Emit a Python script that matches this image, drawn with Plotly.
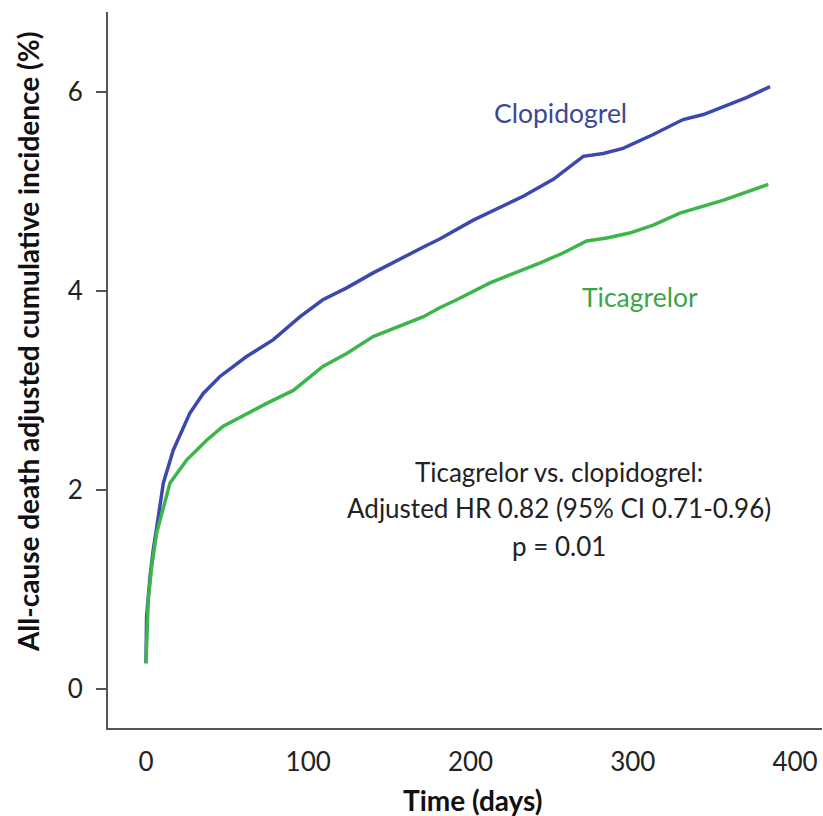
import plotly.graph_objects as go

# ---- data ----
clop_days = [0, 0.4, 2.5, 4.5, 7.6, 10.7, 16.8, 27, 35.3, 45.6, 62, 78.5, 95, 109, 123.7, 140,
             171, 181, 201.7, 232.5, 251, 269.5, 281.8, 294, 312.6, 331, 343.5, 356, 370, 384.6]
clop_vals = [0.26, 0.73, 1.13, 1.40, 1.73, 2.07, 2.40, 2.77, 2.97, 3.14, 3.34, 3.51, 3.74, 3.91, 4.03, 4.18,
             4.44, 4.52, 4.71, 4.95, 5.12, 5.35, 5.38, 5.43, 5.57, 5.72, 5.77, 5.85, 5.94, 6.05]

tica_days = [0, 1.4, 3.5, 6.6, 14.8, 25, 37.4, 47.6, 74.4, 90.8, 109, 123.7, 140, 171, 181, 191.5,
             212, 243, 257, 271.6, 284, 298, 312.6, 329, 356, 383.5]
tica_vals = [0.26, 0.89, 1.23, 1.57, 2.07, 2.30, 2.50, 2.64, 2.87, 3.00, 3.24, 3.37, 3.54, 3.74, 3.83, 3.91,
             4.08, 4.28, 4.38, 4.50, 4.53, 4.58, 4.66, 4.78, 4.91, 5.07]

x_ticks = [0, 100, 200, 300, 400]
y_ticks = [0, 2, 4, 6]

FONT = "Lato"
BLUE = "#3c48b0"
GREEN = "#3cb54a"

fig = go.Figure()
fig.add_trace(go.Scatter(x=clop_days, y=clop_vals, mode="lines", name="Clopidogrel",
                         line=dict(color=BLUE, width=3.5)))
fig.add_trace(go.Scatter(x=tica_days, y=tica_vals, mode="lines", name="Ticagrelor",
                         line=dict(color=GREEN, width=3.5)))

fig.update_layout(
    width=823, height=816,
    margin=dict(l=108, r=1, t=12, b=88),
    plot_bgcolor="white", paper_bgcolor="white",
    showlegend=False,
    font=dict(family=FONT, color="#222222"),
)
fig.update_xaxes(range=[-23.4, 416.6], tickvals=x_ticks, showgrid=False, zeroline=False,
                 showline=True, linecolor="#555555", linewidth=2,
                 ticks="outside", ticklen=10, tickcolor="rgba(0,0,0,0)",
                 tickfont=dict(size=26, family=FONT, color="#222222"), automargin=False)
fig.update_yaxes(range=[-0.39, 6.80], tickvals=y_ticks, showgrid=False, zeroline=False,
                 showline=True, linecolor="#555555", linewidth=2,
                 ticks="outside", ticklen=10, tickwidth=2, tickcolor="#555555",
                 ticklabelstandoff=8,
                 tickfont=dict(size=26, family=FONT, color="#222222"), automargin=False)

# axis titles
fig.add_annotation(text="<b>All-cause death adjusted cumulative incidence (%)</b>",
                   xref="paper", yref="paper", x=-0.112, y=0.539, textangle=-90,
                   showarrow=False, xanchor="center", yanchor="middle",
                   font=dict(size=28, family=FONT, color="#111111"))
fig.add_annotation(text="<b>Time (days)</b>",
                   xref="paper", yref="paper", x=0.51, y=-0.1006,
                   showarrow=False, xanchor="center", yanchor="middle",
                   font=dict(size=28, family=FONT, color="#111111"))

# series labels
fig.add_annotation(text="Clopidogrel", x=255.2, y=5.79, showarrow=False,
                   font=dict(size=26.5, family=FONT, color="#3a4896"))
fig.add_annotation(text="Ticagrelor", x=304.5, y=3.94, showarrow=False,
                   font=dict(size=26.5, family=FONT, color="#3aa547"))

# statistics text
stat_lines = ["Ticagrelor vs. clopidogrel:", "Adjusted HR 0.82 (95% CI 0.71-0.96)", "p = 0.01"]
stat_y = [2.18, 1.82, 1.44]
for t, yy in zip(stat_lines, stat_y):
    fig.add_annotation(text=t, x=254.5, y=yy, showarrow=False,
                       font=dict(size=26, family=FONT, color="#222222"))

fig.write_html("out.html", config={"displayModeBar": False},
               post_script="document.body.style.margin='0';document.body.style.overflow='hidden';")
